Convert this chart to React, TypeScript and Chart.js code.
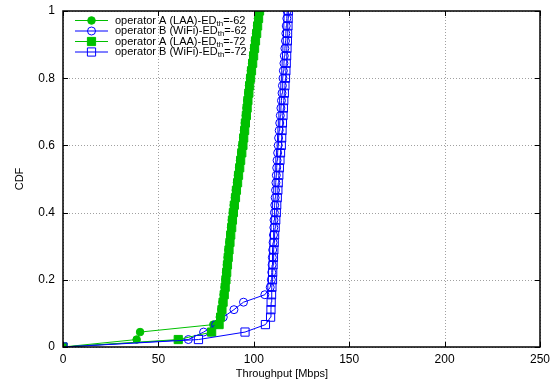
import { useEffect, useRef } from "react";
import { Chart, registerables } from "chart.js";

Chart.register(...registerables);

// Sorted throughput samples (Mbps) per configuration; the CDF level of the
// i-th sample is i / (n - 1).
const laaA62 = [
  0, 38.6, 40.4, 78.8, 82.2, 83.0, 83.6, 84.2, 84.7, 85.1, 85.5, 85.9, 86.3, 86.7, 87.2, 87.6,
  88.1, 88.5, 89.0, 89.5, 90.1, 90.6, 91.2, 91.7, 92.3, 92.8, 93.4, 94.0, 94.4, 94.9, 95.3,
  95.8, 96.2, 96.6, 97.1, 97.5, 98.0, 98.5, 99.1, 99.6, 100.1, 100.6, 101.2, 101.7, 102.2, 102.7,
];
const wifiB62 = [
  0, 65.7, 73.7, 80.0, 84.0, 89.6, 94.6, 105.8, 108.6, 109.2, 109.4, 109.6, 109.7, 109.9, 110.1,
  110.3, 110.5, 110.6, 110.8, 111.0, 111.2, 111.4, 111.6, 111.8, 112.0, 112.2, 112.5, 112.8,
  113.0, 113.3, 113.6, 113.9, 114.2, 114.5, 114.8, 115.0, 115.3, 115.5, 115.8, 116.0, 116.3,
  116.6, 116.8, 117.0, 117.3, 117.5,
];
const laaA72 = [
  0, 60.4, 77.9, 81.8, 82.6, 83.3, 83.9, 84.5, 85.0, 85.4, 85.8, 86.2, 86.6, 87.0, 87.5, 87.9,
  88.4, 88.8, 89.3, 89.8, 90.4, 90.9, 91.5, 92.0, 92.6, 93.1, 93.7, 94.3, 94.7, 95.2, 95.6,
  96.1, 96.5, 96.9, 97.4, 97.8, 98.3, 98.8, 99.4, 99.9, 100.4, 100.9, 101.5, 102.0, 102.5, 103.0,
];
const wifiB72 = [
  0, 71.0, 95.4, 106.1, 108.8, 109.0, 109.1, 109.3, 109.5, 109.8, 109.9, 110.1, 110.3, 110.5,
  110.7, 110.9, 111.2, 111.5, 111.8, 112.0, 112.3, 112.6, 112.8, 113.1, 113.4, 113.7, 114.0,
  114.4, 114.6, 114.8, 115.0, 115.3, 115.5, 115.7, 116.0, 116.3, 116.6, 116.8, 117.0, 117.2,
  117.4, 117.6, 117.7, 117.9, 118.0, 118.1,
];

const xTicks = [0, 50, 100, 150, 200, 250];
const yTicks = [0, 0.2, 0.4, 0.6, 0.8, 1];

const GREEN = "#00c000";
const BLUE = "#0000ff";
const FONT = "Liberation Sans, Arial, sans-serif";

type Series = {
  name: string;
  suffix: string;
  samples: number[];
  color: string;
  style: "circle" | "rect";
  filled: boolean;
  radius: number;
};

const series: Series[] = [
  { name: "operator A (LAA)-ED", suffix: "=-62", samples: laaA62, color: GREEN, style: "circle", filled: true, radius: 3.8 },
  { name: "operator B (WiFi)-ED", suffix: "=-62", samples: wifiB62, color: BLUE, style: "circle", filled: false, radius: 4 },
  { name: "operator A (LAA)-ED", suffix: "=-72", samples: laaA72, color: GREEN, style: "rect", filled: true, radius: 5.8 },
  { name: "operator B (WiFi)-ED", suffix: "=-72", samples: wifiB72, color: BLUE, style: "rect", filled: false, radius: 5.8 },
];

const toCdf = (xs: number[]) => xs.map((x, i) => ({ x, y: i / (xs.length - 1) }));

function drawMarker(ctx: CanvasRenderingContext2D, s: Series, x: number, y: number) {
  ctx.beginPath();
  if (s.style === "circle") {
    ctx.arc(x, y, s.radius, 0, Math.PI * 2);
  } else {
    const h = s.radius * Math.SQRT1_2;
    ctx.rect(x - h, y - h, 2 * h, 2 * h);
  }
  if (s.filled) {
    ctx.fillStyle = s.color;
    ctx.fill();
  }
  ctx.strokeStyle = s.color;
  ctx.lineWidth = 1;
  ctx.stroke();
}

const framePlugin = {
  id: "gnuplotFrame",
  beforeDatasetsDraw(chart: any) {
    const { ctx, chartArea: a, scales } = chart;
    ctx.save();
    ctx.strokeStyle = "#a0a0a0";
    ctx.lineWidth = 1;
    ctx.setLineDash([1, 2]);
    for (const v of xTicks) {
      const px = Math.round(scales.x.getPixelForValue(v)) + 0.5;
      ctx.beginPath();
      ctx.moveTo(px, a.top);
      ctx.lineTo(px, a.bottom);
      ctx.stroke();
    }
    for (const v of yTicks) {
      const py = Math.round(scales.y.getPixelForValue(v)) + 0.5;
      ctx.beginPath();
      ctx.moveTo(a.left, py);
      ctx.lineTo(a.right, py);
      ctx.stroke();
    }
    ctx.restore();
  },
  afterDatasetsDraw(chart: any) {
    const { ctx, chartArea: a, scales } = chart;
    ctx.save();
    // inward tick marks on all four sides
    ctx.strokeStyle = "#000";
    ctx.lineWidth = 1;
    const t = 5;
    for (const v of xTicks) {
      const px = Math.round(scales.x.getPixelForValue(v)) + 0.5;
      ctx.beginPath();
      ctx.moveTo(px, a.bottom);
      ctx.lineTo(px, a.bottom - t);
      ctx.moveTo(px, a.top);
      ctx.lineTo(px, a.top + t);
      ctx.stroke();
    }
    for (const v of yTicks) {
      const py = Math.round(scales.y.getPixelForValue(v)) + 0.5;
      ctx.beginPath();
      ctx.moveTo(a.left, py);
      ctx.lineTo(a.left + t, py);
      ctx.moveTo(a.right, py);
      ctx.lineTo(a.right - t, py);
      ctx.stroke();
    }
    // plot border
    ctx.lineWidth = 1.5;
    ctx.strokeRect(a.left, a.top, a.right - a.left, a.bottom - a.top);

    // key, top-left inside the plot
    const lineX0 = 75;
    const lineX1 = 108;
    const textX = 115;
    const rowY = [20.5, 31, 41.5, 52];
    series.forEach((s, i) => {
      const y = rowY[i];
      ctx.strokeStyle = s.color;
      ctx.lineWidth = 1;
      ctx.beginPath();
      ctx.moveTo(lineX0, y);
      ctx.lineTo(lineX1, y);
      ctx.stroke();
      drawMarker(ctx, s, (lineX0 + lineX1) / 2, y);

      ctx.fillStyle = "#000";
      ctx.textBaseline = "middle";
      ctx.textAlign = "left";
      ctx.font = `11px ${FONT}`;
      ctx.fillText(s.name, textX, y);
      let x = textX + ctx.measureText(s.name).width;
      ctx.font = `8px ${FONT}`;
      ctx.fillText("th", x, y + 3);
      x += ctx.measureText("th").width;
      ctx.font = `11px ${FONT}`;
      ctx.fillText(s.suffix, x, y);
    });

    // axis titles
    ctx.fillStyle = "#000";
    ctx.font = `11px ${FONT}`;
    ctx.textAlign = "center";
    ctx.textBaseline = "middle";
    ctx.fillText("Throughput [Mbps]", 282, 374);
    ctx.translate(20, (a.top + a.bottom) / 2);
    ctx.rotate(-Math.PI / 2);
    ctx.fillText("CDF", 0, 0);
    ctx.restore();
  },
};

export default function App() {
  const canvasRef = useRef<HTMLCanvasElement | null>(null);

  useEffect(() => {
    const canvas = canvasRef.current;
    if (!canvas) return;
    const chart = new Chart(canvas, {
      type: "line",
      data: {
        datasets: series.map((s, i) => ({
          label: s.name + "th" + s.suffix,
          data: toCdf(s.samples),
          borderColor: s.color,
          borderWidth: 1,
          backgroundColor: s.filled ? s.color : "rgba(0,0,0,0)",
          pointBackgroundColor: s.filled ? s.color : "rgba(0,0,0,0)",
          pointBorderColor: s.color,
          pointBorderWidth: 1,
          pointStyle: s.style,
          pointRadius: s.radius,
          pointHoverRadius: s.radius,
          fill: false,
          tension: 0,
          // later series are drawn on top of earlier ones
          order: series.length - i,
        })),
      },
      options: {
        animation: false,
        responsive: false,
        maintainAspectRatio: false,
        events: [],
        layout: { padding: { top: 11, right: 16, left: 0, bottom: 0 } },
        plugins: {
          legend: { display: false },
          tooltip: { enabled: false },
        },
        scales: {
          x: {
            type: "linear",
            min: 0,
            max: 250,
            afterBuildTicks: (scale: any) => {
              scale.ticks = xTicks.map((v) => ({ value: v }));
            },
            afterFit: (scale: any) => {
              scale.height = 36;
              scale.paddingLeft = 0;
              scale.paddingRight = 0;
            },
            grid: { display: false, drawTicks: false },
            border: { display: false },
            ticks: {
              color: "#000",
              padding: 5,
              maxRotation: 0,
              font: { family: FONT, size: 12 },
              callback: (v: any) => String(v),
            },
          },
          y: {
            type: "linear",
            min: 0,
            max: 1,
            afterBuildTicks: (scale: any) => {
              scale.ticks = yTicks.map((v) => ({ value: v }));
            },
            afterFit: (scale: any) => {
              scale.width = 63;
              scale.paddingTop = 0;
              scale.paddingBottom = 0;
            },
            grid: { display: false, drawTicks: false },
            border: { display: false },
            ticks: {
              color: "#000",
              padding: 8,
              font: { family: FONT, size: 12 },
              callback: (v: any) => String(v),
            },
          },
        },
      },
      plugins: [framePlugin],
    });
    return () => chart.destroy();
  }, []);

  return (
    <div style={{ position: "fixed", left: 0, top: 0, width: 556, height: 383, background: "#fff" }}>
      <canvas ref={canvasRef} width={556} height={383} style={{ display: "block" }} />
    </div>
  );
}
